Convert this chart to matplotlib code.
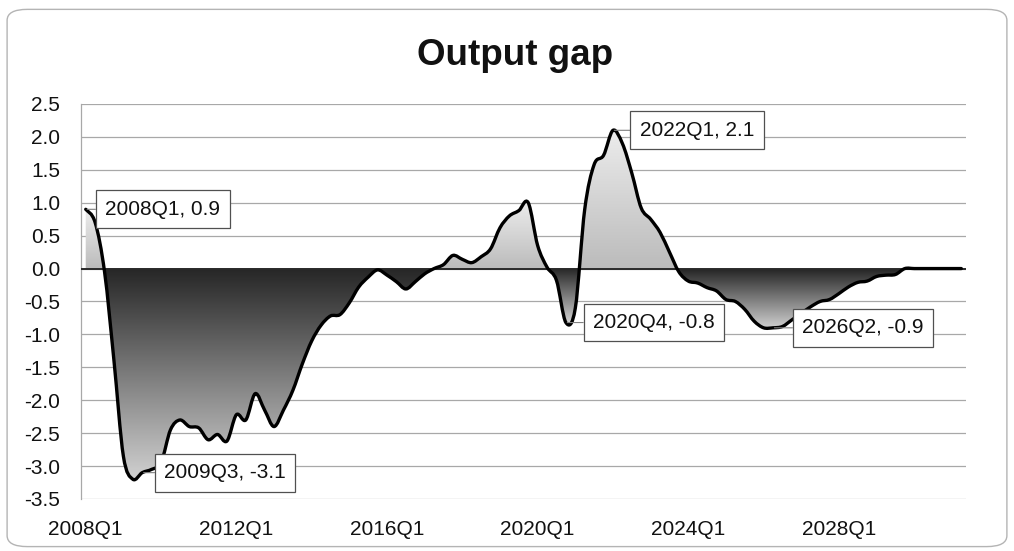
import matplotlib

matplotlib.use("Agg")

import matplotlib.pyplot as plt
import numpy as np
from matplotlib.colors import LinearSegmentedColormap
from matplotlib.patches import FancyBboxPatch, PathPatch
from matplotlib.path import Path

plt.rcParams["font.family"] = ["Liberation Sans", "DejaVu Sans"]

# quarterly output gap, 2008Q1 .. 2031Q2
START_YEAR = 2008
GAP = [
    0.9, 0.7, -0.05, -1.4, -2.85, -3.2, -3.1, -3.05, -2.95, -2.45,
    -2.3, -2.4, -2.42, -2.6, -2.52, -2.62, -2.22, -2.3, -1.9, -2.15,
    -2.4, -2.15, -1.85, -1.45, -1.1, -0.86, -0.72, -0.7, -0.52, -0.28,
    -0.13, -0.02, -0.1, -0.2, -0.31, -0.2, -0.08, 0.0, 0.06, 0.2,
    0.14, 0.09, 0.18, 0.3, 0.62, 0.8, 0.88, 1.0, 0.35, 0.02,
    -0.18, -0.82, -0.6, 0.9, 1.58, 1.72, 2.1, 1.9, 1.45, 0.92,
    0.75, 0.55, 0.25, -0.05, -0.19, -0.22, -0.29, -0.34, -0.47, -0.5,
    -0.62, -0.8, -0.9, -0.9, -0.88, -0.78, -0.68, -0.58, -0.5, -0.47,
    -0.38, -0.28, -0.21, -0.19, -0.12, -0.1, -0.09, 0.0, 0.0, 0.0,
    0.0, 0.0, 0.0, 0.0,
]
QUARTERS = [f"{START_YEAR + i // 4}Q{i % 4 + 1}" for i in range(len(GAP))]
TICK_STEP = 16

# labelled points: (quarter, offset of the label box in pixels)
LABELS = [
    ("2008Q1", 77),
    ("2009Q3", 83),
    ("2020Q4", 88),
    ("2022Q1", 84),
    ("2026Q2", 90),
]

NEG_CMAP = LinearSegmentedColormap.from_list("neg", ["#262626", "#dedede"])
POS_CMAP = LinearSegmentedColormap.from_list("pos", ["#bbbbbb", "#f0f0f0"])


def smooth_path(x, y):
    # Excel-style smoothed line: Catmull-Rom spline as cubic Bezier pieces
    pts = np.column_stack([x, y]).astype(float)
    padded = np.vstack([pts[0], pts, pts[-1]])
    verts = [pts[0]]
    codes = [Path.MOVETO]
    for k in range(len(pts) - 1):
        p0, p1, p2, p3 = padded[k], padded[k + 1], padded[k + 2], padded[k + 3]
        verts += [p1 + (p2 - p0) / 6.0, p2 - (p3 - p1) / 6.0, p2]
        codes += [Path.CURVE4] * 3
    return np.array(verts), codes


def area_path(x, y):
    verts, codes = smooth_path(x, y)
    verts = np.vstack([verts, [x[-1], 0.0], [x[0], 0.0], verts[0]])
    codes = codes + [Path.LINETO, Path.LINETO, Path.CLOSEPOLY]
    return Path(verts, codes)


def gradient_fill(ax, x, y, clip, where, cmap):
    coll = ax.fill_between(x, y, 0, where=where, interpolate=True,
                           facecolor="none", edgecolor="none")
    grad = np.linspace(0, 1, 256).reshape(-1, 1)
    for path in coll.get_paths():
        verts = path.vertices
        x0, x1 = verts[:, 0].min() - 0.4, verts[:, 0].max() + 0.4
        ymin, ymax = verts[:, 1].min(), verts[:, 1].max()
        if ymax - ymin < 1e-6:
            continue
        if ymax <= 1e-9:
            # negative area: dark at zero, lighter towards the bottom
            im = ax.imshow(grad, extent=(x0, x1, ymin * 1.08, 0), aspect="auto",
                           cmap=cmap, origin="upper", zorder=1,
                           interpolation="bilinear")
        else:
            # positive area: darker at zero, lighter towards the top
            im = ax.imshow(grad, extent=(x0, x1, 0, ymax * 1.08), aspect="auto",
                           cmap=cmap, origin="lower", zorder=1,
                           interpolation="bilinear")
        im.set_clip_path(clip, transform=ax.transData)


def main():
    x = np.arange(len(GAP))
    y = np.array(GAP)

    fig = plt.figure(figsize=(10.14, 5.51), dpi=100)
    border = FancyBboxPatch((0.007, 0.008), 0.986, 0.975,
                            boxstyle="round,pad=0,rounding_size=0.02",
                            transform=fig.transFigure, facecolor="none",
                            edgecolor="#b4b4b4", linewidth=1.0, zorder=-1)
    fig.patches.append(border)

    ax = fig.add_axes([0.0799, 0.0944, 0.8728, 0.7169])
    ax.set_facecolor("none")

    clip = area_path(x, y)
    gradient_fill(ax, x, y, clip, y < 0, NEG_CMAP)
    gradient_fill(ax, x, y, clip, y > 0, POS_CMAP)

    verts, codes = smooth_path(x, y)
    ax.add_patch(PathPatch(Path(verts, codes), facecolor="none", edgecolor="black",
                           linewidth=2.4, joinstyle="round", capstyle="round", zorder=4))
    ax.axhline(0, color="#2a2a2a", linewidth=1.4, zorder=3)

    ax.set_xlim(-0.5, len(GAP) - 0.5)
    ax.set_ylim(-3.5, 2.5)
    ticks = np.arange(-3.5, 2.51, 0.5)
    ax.set_yticks(ticks)
    ax.set_yticklabels([f"{v:.1f}" for v in ticks])
    ax.set_xticks(x[::TICK_STEP])
    ax.set_xticklabels(QUARTERS[::TICK_STEP])
    ax.tick_params(axis="y", length=0, pad=15, labelsize=15, colors="#111111")
    ax.tick_params(axis="x", length=0, pad=15, labelsize=15, colors="#111111")
    ax.grid(axis="y", color="#a8a8a8", linewidth=0.9, zorder=0)
    ax.set_axisbelow(True)
    for side in ["top", "right", "bottom"]:
        ax.spines[side].set_visible(False)
    ax.spines["left"].set_color("#a8a8a8")
    ax.spines["left"].set_linewidth(0.9)

    for quarter, dx in LABELS:
        i = QUARTERS.index(quarter)
        ax.annotate(f"{quarter}, {GAP[i]:.1f}", xy=(i, GAP[i]),
                    xytext=(dx, 0), textcoords="offset pixels",
                    ha="center", va="center", fontsize=15, color="#111111",
                    bbox=dict(boxstyle="square,pad=0.45", facecolor="white",
                              edgecolor="#505050", linewidth=0.9),
                    arrowprops=dict(arrowstyle="-", color="#808080", linewidth=0.8,
                                    shrinkA=0, shrinkB=1),
                    zorder=6)

    fig.text(0.508, 0.90, "Output gap", ha="center", va="center",
             fontsize=26.5, fontweight="bold", color="#111111")

    fig.savefig("out.png", dpi=100)
    plt.close(fig)


if __name__ == "__main__":
    main()
